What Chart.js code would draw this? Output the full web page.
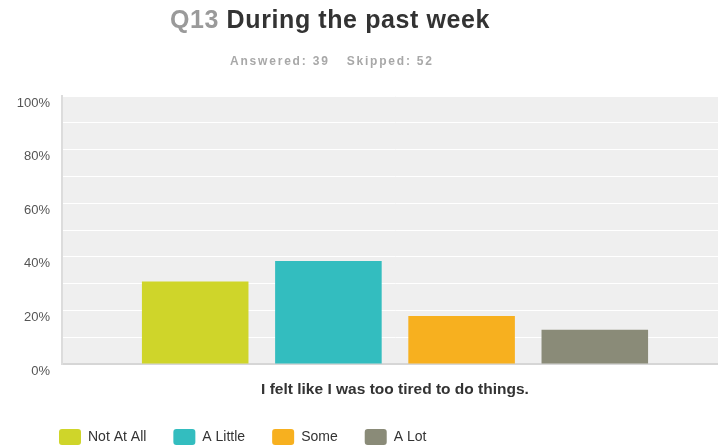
<!DOCTYPE html>
<html>
<head>
<meta charset="utf-8">
<script src="https://cdn.jsdelivr.net/npm/chart.js@4"></script>
<style>
  html, body { margin: 0; padding: 0; background: #fff; overflow: hidden; }
  #wrap { position: relative; width: 718px; height: 448px; overflow: hidden; }
  #chart { position: absolute; left: 0; top: 0; }
  .title { position: absolute; left: 170px; top: 7px; font: bold 25px/25px "Liberation Sans", Arial, sans-serif; letter-spacing: 0.6px; color: #333; white-space: nowrap; }
  .title span { color: #9a9a9a; }
  .sub { position: absolute; left: 230px; top: 55px; font: bold 12px/12px "Liberation Sans", Arial, sans-serif; letter-spacing: 1.8px; color: #a8a8a8; white-space: nowrap; }
</style>
</head>
<body>
<div id="wrap">
  <canvas id="chart" width="728" height="455"></canvas>
  <div class="title"><span>Q13</span> During the past week</div>
  <div class="sub">Answered: 39<span style="display:inline-block;width:17px"></span>Skipped: 52</div>
</div>
<script>
const question = ["I felt like I was too tired to do things."];
const answers = ["Not At All", "A Little", "Some", "A Lot"];
const percents = [30.77, 38.46, 17.95, 12.82];
const colors = ["#cfd52a", "#33bdbf", "#f7b01f", "#8a8b78"];
const yTicks = [0, 20, 40, 60, 80, 100];

// grey plot background
const plotBg = {
  id: "plotBg",
  beforeDraw(chart) {
    const a = chart.chartArea;
    const ctx = chart.ctx;
    ctx.save();
    ctx.fillStyle = "#efefef";
    ctx.fillRect(a.left, a.top, a.right - a.left, a.bottom - a.top);
    ctx.restore();
  }
};

// legend starts a bit in from the left edge
const legendShift = {
  id: "legendShift",
  afterLayout(chart) {
    if (chart.legend) chart.legend.left = 32;
  }
};

let datasets = [];
for (let i = 0; i < answers.length; i++) {
  datasets.push({
    label: answers[i],
    data: [percents[i]],
    backgroundColor: colors[i],
    borderWidth: 0,
    barPercentage: 0.8,
    categoryPercentage: 0.8
  });
}

const ctx = document.getElementById("chart").getContext("2d");
new Chart(ctx, {
  type: "bar",
  data: { labels: question, datasets: datasets },
  plugins: [plotBg, legendShift],
  options: {
    responsive: false,
    animation: false,
    layout: { padding: { left: 0, top: 96, right: 0, bottom: 0 } },
    scales: {
      x: {
        grid: { display: false, drawTicks: false },
        border: { display: true, color: "#d6d6d6", width: 2 },
        ticks: {
          color: "#333",
          padding: 16,
          font: { family: "'Liberation Sans', Arial", size: 15.5, weight: "bold" }
        },
        afterFit(scale) { scale.height = 38; }
      },
      y: {
        min: 0,
        max: 100,
        grid: { color: "#ffffff", lineWidth: 1, drawTicks: false },
        border: { display: true, color: "#dcdcdc", width: 2 },
        ticks: {
          stepSize: 10,
          padding: 12,
          labelOffset: 7,
          color: "#555",
          font: { family: "'Liberation Sans', Arial", size: 13 },
          callback: function (v) { return yTicks.includes(v) ? v + "%" : ""; }
        },
        afterFit(scale) { scale.width = 62; }
      }
    },
    plugins: {
      title: { display: false },
      tooltip: { enabled: false },
      legend: {
        display: true,
        position: "bottom",
        align: "start",
        labels: {
          color: "#333",
          font: { family: "'Liberation Sans', Arial", size: 14 },
          boxWidth: 22,
          boxHeight: 16,
          useBorderRadius: true,
          borderRadius: 3,
          padding: 27
        }
      }
    }
  }
});
</script>
</body>
</html>
